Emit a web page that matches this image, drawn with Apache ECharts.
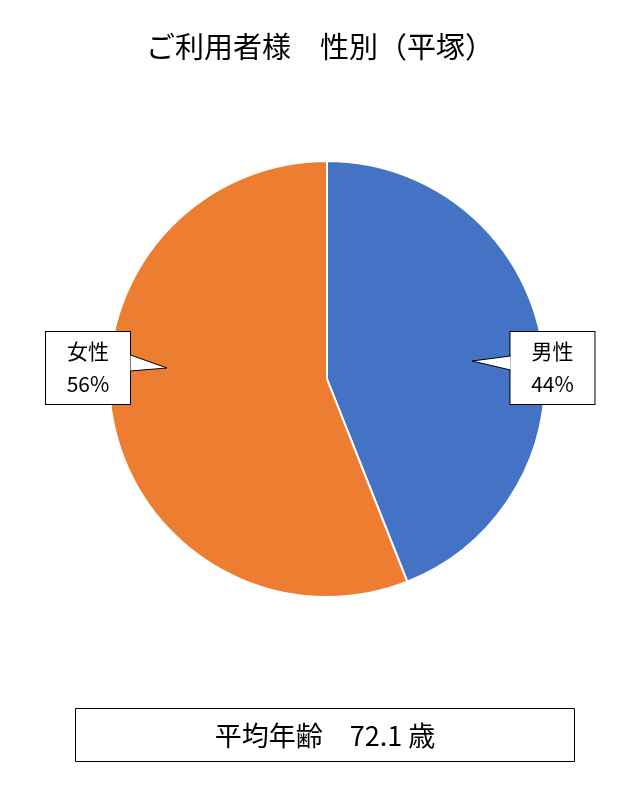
<!DOCTYPE html>
<html>
<head>
<meta charset="utf-8">
<script src="https://cdn.jsdelivr.net/npm/echarts@6/dist/echarts.min.js"></script>
<style>html,body{margin:0;padding:0;background:#fff}#c{width:640px;height:800px}</style>
</head>
<body>
<div id="c"></div>
<script>
const titleText = 'ご利用者様　性別（平塚）';
const categories = ['男性', '女性'];
const values = [44, 56];
const colors = ['#4472C4', '#ED7D31'];
const avgAgeLabel = '平均年齢';
const avgAge = 72.1;
const avgAgeUnit = '歳';

const FONT = '"Noto Sans CJK JP", "Noto Sans", sans-serif';
const chart = echarts.init(document.getElementById('c'));

const labelPos = [
  { x: 552.5, y: 368 },
  { x: 88, y: 368 }
];

chart.setOption({
  animation: false,
  title: {
    text: titleText,
    left: 'center',
    top: 27,
    textStyle: { fontFamily: FONT, fontSize: 29, fontWeight: 'normal', color: '#000' }
  },
  series: [{
    type: 'pie',
    center: [327, 379],
    radius: [0, 218],
    startAngle: 90,
    clockwise: true,
    silent: true,
    itemStyle: { borderColor: '#fff', borderWidth: 2 },
    data: categories.map((c, i) => ({ name: c, value: values[i], itemStyle: { color: colors[i] } })),
    label: {
      show: true,
      formatter: '{b}\n{d}%',
      fontFamily: FONT,
      fontSize: 21,
      color: '#000',
      lineHeight: 33,
      align: 'center',
      width: 84,
      padding: [3, 0, 3, 0],
      backgroundColor: '#fff',
      borderColor: '#000',
      borderWidth: 1
    },
    labelLine: { show: false },
    labelLayout: function (p) {
      const lp = labelPos[p.dataIndex];
      return { x: lp.x, y: lp.y, align: 'center', verticalAlign: 'middle' };
    }
  }],
  graphic: [
    { type: 'polygon', z: 100, shape: { points: [[510.5, 356], [472, 361], [510.5, 370]] }, style: { fill: '#fff', stroke: null } },
    { type: 'polyline', z: 101, shape: { points: [[510.5, 356], [472, 361], [510.5, 370]] }, style: { stroke: '#000', lineWidth: 1, fill: null } },
    { type: 'polygon', z: 100, shape: { points: [[130.5, 355], [167, 368], [130.5, 371]] }, style: { fill: '#fff', stroke: null } },
    { type: 'polyline', z: 101, shape: { points: [[130.5, 355], [167, 368], [130.5, 371]] }, style: { stroke: '#000', lineWidth: 1, fill: null } },
    { type: 'rect', z: 100, shape: { x: 75.5, y: 708.5, width: 499, height: 53 }, style: { fill: '#fff', stroke: '#000', lineWidth: 1 } },
    { type: 'text', z: 101, x: 325, y: 736, style: { text: avgAgeLabel + '　' + avgAge + ' ' + avgAgeUnit, font: '27px ' + FONT, fill: '#000', textAlign: 'center', textVerticalAlign: 'middle' } }
  ]
});
</script>
</body>
</html>
